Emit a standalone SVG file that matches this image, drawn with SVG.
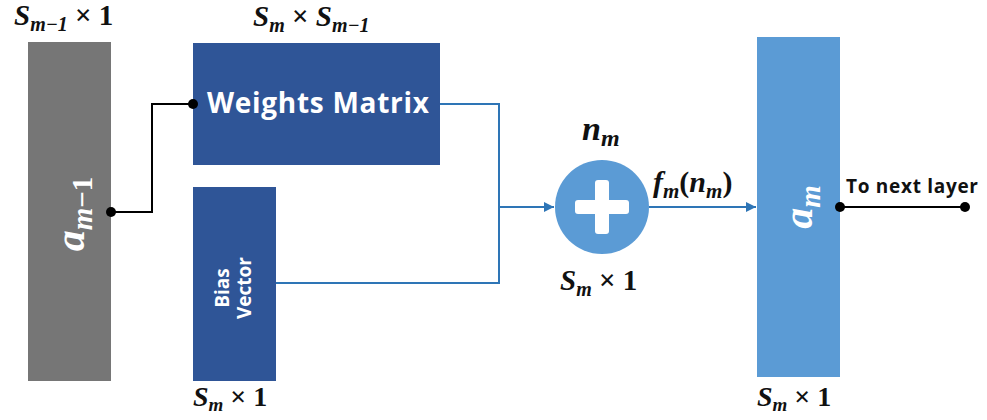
<svg xmlns="http://www.w3.org/2000/svg" width="987" height="420" viewBox="0 0 987 420">
<style>
.m{font-family:"Liberation Serif",serif;font-weight:bold;font-style:italic;fill:#111}
.w{font-family:"Open Sans","Liberation Sans",sans-serif;font-weight:bold;fill:#fff}
.bl{fill:none;stroke:#2E75B6;stroke-width:2}
.k{fill:none;stroke:#000;stroke-width:2}
</style>
<defs>
<marker id="ar" viewBox="0 0 10 10" refX="10" refY="5" markerWidth="5" markerHeight="5" orient="auto" markerUnits="strokeWidth">
<path d="M0,0 L10,5 L0,10 z" fill="#2E75B6"/>
</marker>
</defs>
<g id="prev">
<rect x="28" y="42" width="83" height="339" fill="#767676"/>
<text class="m" font-size="42" style="fill:#fff" transform="translate(84,214) rotate(-90)" text-anchor="middle">a<tspan font-size="29" dy="8">m</tspan><tspan font-style="normal" font-size="29">−1</tspan></text>
<text class="m" font-size="29" x="14" y="25">S<tspan font-size="20" dy="6">m−1</tspan><tspan dy="-6" font-style="normal"> × 1</tspan></text>
</g>
<g id="weights">
<rect x="193" y="43" width="247" height="122" fill="#2F5597"/>
<text class="w" font-size="28" x="318" y="113" text-anchor="middle" textLength="222">Weights Matrix</text>
<text class="m" font-size="29" x="253" y="26">S<tspan font-size="20" dy="6">m</tspan><tspan dy="-6" font-style="normal"> × </tspan>S<tspan font-size="20" dy="6">m−1</tspan></text>
</g>
<g id="bias">
<rect x="193" y="187" width="83" height="194" fill="#2F5597"/>
<text class="w" font-size="19" transform="translate(229,288) rotate(-90)" text-anchor="middle"><tspan x="0" y="0">Bias</tspan><tspan x="0" y="22">Vector</tspan></text>
<text class="m" font-size="28" x="193" y="406">S<tspan font-size="19" dy="5">m</tspan><tspan dy="-5" font-style="normal"> × 1</tspan></text>
</g>
<g id="sum">
<circle cx="602" cy="207" r="47" fill="#5B9BD5"/>
<rect x="575" y="200" width="54" height="14" rx="3" fill="#fff"/>
<rect x="595" y="180" width="14" height="54" rx="3" fill="#fff"/>
<text class="m" font-size="34" x="582" y="140">n<tspan font-size="24" dy="6">m</tspan></text>
<text class="m" font-size="29" x="560" y="290">S<tspan font-size="20" dy="6">m</tspan><tspan dy="-6" font-style="normal"> × 1</tspan></text>
<text class="m" font-size="30" x="653" y="192">f<tspan font-size="21" dy="6">m</tspan><tspan dy="-6" font-style="normal">(</tspan>n<tspan font-size="21" dy="6">m</tspan><tspan dy="-6" font-style="normal">)</tspan></text>
</g>
<g id="out">
<rect x="757" y="37" width="83" height="340" fill="#5B9BD5"/>
<text class="m" font-size="42" style="fill:#fff" transform="translate(812,207) rotate(-90)" text-anchor="middle">a<tspan font-size="29" dy="8">m</tspan></text>
<text class="m" font-size="28" x="757" y="406">S<tspan font-size="19" dy="5">m</tspan><tspan dy="-5" font-style="normal"> × 1</tspan></text>
<text font-family="Open Sans, Liberation Sans, sans-serif" font-weight="bold" font-size="19" x="846" y="193" fill="#111" textLength="132">To next layer</text>
</g>
<g id="connectors">
<path class="k" d="M111,212 H152 V104 H193"/>
<circle cx="111" cy="212" r="5" fill="#000"/>
<circle cx="193" cy="104" r="5" fill="#000"/>
<path class="bl" d="M440,104 H499 V283 H276"/>
<path class="bl" d="M499,207 H554" marker-end="url(#ar)"/>
<path class="bl" d="M649,207 H756" marker-end="url(#ar)"/>
<path class="k" d="M840,207 H965"/>
<circle cx="840" cy="207" r="5" fill="#000"/>
<circle cx="965" cy="207" r="5" fill="#000"/>
</g>
</svg>
